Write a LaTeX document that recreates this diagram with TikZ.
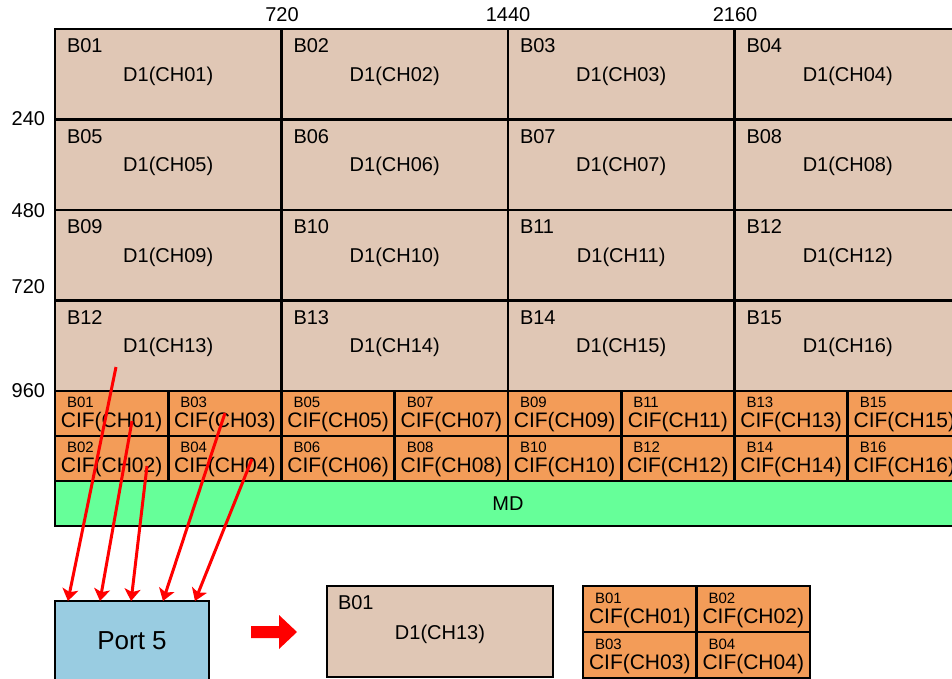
\documentclass[tikz,border=0pt]{standalone}
\usepackage{fontspec}
\setmainfont{Liberation Sans}
\usetikzlibrary{arrows.meta,calc}
\definecolor{bej}{RGB}{224,199,181}
\definecolor{turuncu}{RGB}{243,156,88}
\definecolor{yesil}{RGB}{102,255,153}
\definecolor{mavi}{RGB}{153,204,225}
\newcommand{\iki}[1]{\ifnum#1<10 0\fi#1}
\newcommand{\yazi}[1]{\fontsize{#1}{#1}\selectfont}
\tikzset{
  blok/.style={draw, line width=2.8pt, fill=bej},
  cif/.style={draw, line width=2.8pt, fill=turuncu},
  kucuk/.style={font=\yazi{15}},
  buyuk/.style={font=\yazi{21}},
  ok/.style={red, line width=3pt, -{Stealth[length=12pt,width=16pt,inset=3pt]}},
}
\begin{document}
\begin{tikzpicture}[x=1pt, y=-1pt, every node/.style={font=\yazi{20}, inner sep=0pt, outer sep=0pt}]
  \useasboundingbox (0,0) rectangle (952,679);
  \clip (0,0) rectangle (952,679);
  % Eksen etiketleri
  \node (x1) at (282,15) {720};
  \node (x2) at (508,15) {1440};
  \node (x3) at (735,15) {2160};
  \node[anchor=east] (y1) at (45,119) {240};
  \node[anchor=east] (y2) at (45,211) {480};
  \node[anchor=east] (y3) at (45,287) {720};
  \node[anchor=east] (y4) at (45,391) {960};
  % D1 blokları
  \foreach \sat in {0,...,3} \foreach \sut in {0,...,3} {
    \pgfmathtruncatemacro\kn{4*\sat+\sut+1}
    \pgfmathtruncatemacro\bn{\kn-(\sat==3)}
    \pgfmathsetmacro\x{55+226.5*\sut}
    \pgfmathsetmacro\y{29+90.5*\sat}
    \draw[blok] (\x,\y) rectangle ++(226.5,90.5);
    \node[anchor=west] (b\kn) at (\x+12,\y+17) {B\iki{\bn}};
    \node (d\kn) at (\x+113.25,\y+47) {D1(CH\iki{\kn})};
  }
  % CIF blokları
  \foreach \sut in {0,...,7} \foreach \sat in {0,1} {
    \pgfmathtruncatemacro\kn{2*\sut+\sat+1}
    \pgfmathsetmacro\x{55+113.25*\sut}
    \pgfmathsetmacro\y{391+45*\sat}
    \draw[cif] (\x,\y) rectangle ++(113.25,45);
    \node[kucuk, anchor=west] (cb\kn) at (\x+12,\y+11) {B\iki{\kn}};
    \node[buyuk] (c\kn) at (\x+56.6,\y+31) {CIF(CH\iki{\kn})};
  }
  % MD
  \draw[line width=2.8pt, fill=yesil] (55,481) rectangle (961,526);
  \node (md) at (508,504) {MD};
  % Port 5
  \node[draw, line width=2.8pt, fill=mavi, minimum width=154pt, minimum height=80pt, font=\yazi{26}] (port) at (132,641) {Port 5};
  \coordinate (s1) at (116,367);
  \coordinate (s2) at (132,421);
  \coordinate (s3) at (147,466);
  \coordinate (s4) at (225,413);
  \coordinate (s5) at (252,459);
  \draw[ok] (s1) -- ($(port.north west)!0.084!(port.north east)$);
  \draw[ok] (s2) -- ($(port.north west)!0.292!(port.north east)$);
  \draw[ok] (s3) -- ($(port.north west)!0.494!(port.north east)$);
  \draw[ok] (s4) -- ($(port.north west)!0.701!(port.north east)$);
  \draw[ok] (s5) -- ($(port.north west)!0.909!(port.north east)$);
  % Büyük ok
  \fill[red] (251,626) -- (279,626) -- (279,615) -- (297,632) -- (279,649) -- (279,638) -- (251,638) -- cycle;
  % Sonuç: D1 bloğu
  \draw[blok] (327,586) rectangle (553,677);
  \node[anchor=west] (ob) at (338,603) {B01};
  \node (od) at (440,634) {D1(CH13)};
  % Sonuç: CIF blokları
  \foreach \sut in {0,1} \foreach \sat in {0,1} {
    \pgfmathtruncatemacro\kn{2*\sat+\sut+1}
    \pgfmathsetmacro\x{583+113.5*\sut}
    \pgfmathsetmacro\y{586+46*\sat}
    \draw[cif] (\x,\y) rectangle ++(113.5,46);
    \node[kucuk, anchor=west] (ocb\kn) at (\x+12,\y+12) {B\iki{\kn}};
    \node[buyuk] (oc\kn) at (\x+56.75,\y+32) {CIF(CH\iki{\kn})};
  }
\end{tikzpicture}
\end{document}
